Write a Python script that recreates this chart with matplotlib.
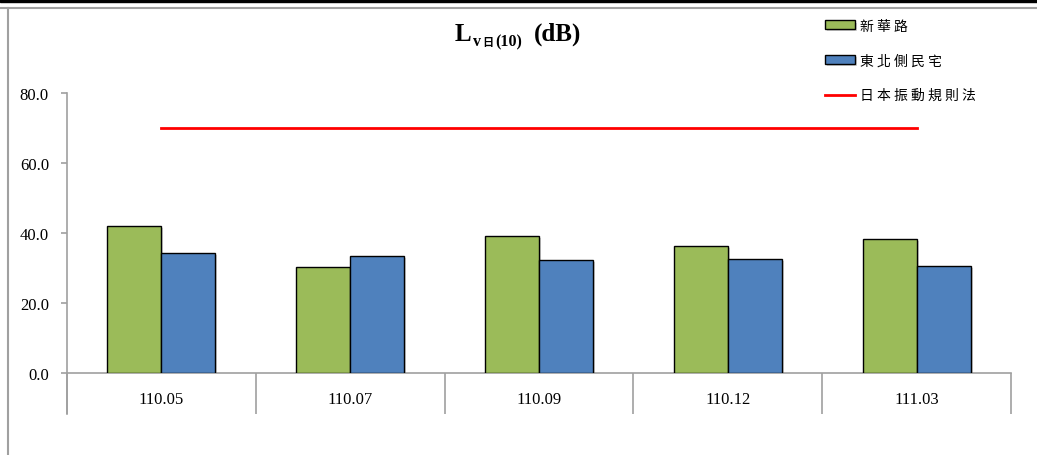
import numpy as np
import matplotlib
matplotlib.use("Agg")
import matplotlib.pyplot as plt
import matplotlib.patheffects as pe
from matplotlib.lines import Line2D
from matplotlib.patches import Rectangle

# 資料
periods = ["110.05", "110.07", "110.09", "110.12", "111.03"]
xinhua = [42.0, 30.3, 39.1, 36.3, 38.3]        # 新華路
east_north = [34.3, 33.4, 32.3, 32.6, 30.6]    # 東北側民宅
jp_limit = [70.0, 70.0, 70.0, 70.0, 70.0]      # 日本振動規則法
yticks = [0, 20, 40, 60, 80]

green = "#9BBB59"
blue = "#4F81BD"
axis_gray = "#A0A0A0"
serif = ["Liberation Serif", "DejaVu Serif"]
cjk = ["Noto Sans CJK TC", "DejaVu Sans"]

W, H = 1037, 456
fig = plt.figure(figsize=(W / 100, H / 100), dpi=100)
ax = fig.add_axes([67 / W, 82 / H, (1011 - 67) / W, 280 / H])

x = np.arange(len(periods))
bw = 0.286
shadow = [pe.SimplePatchShadow(offset=(1.5, -1.5), shadow_rgbFace="gray", alpha=0.35), pe.Normal()]
b1 = ax.bar(x - bw / 2, xinhua, bw, color=green, edgecolor="black", linewidth=1.0,
            label="新 華 路", zorder=3)
b2 = ax.bar(x + bw / 2, east_north, bw, color=blue, edgecolor="black", linewidth=1.0,
            label="東 北 側 民 宅", zorder=3)
for b in list(b1) + list(b2):
    b.set_path_effects(shadow)
ln, = ax.plot(x, jp_limit, color="#FF0000", linewidth=2, label="日 本 振 動 規 則 法", zorder=4)

ax.set_xlim(-0.5, len(periods) - 0.5)
ax.set_ylim(0, 80)
ax.set_yticks(yticks)
ax.set_yticklabels([f"{v:.1f}" for v in yticks], fontfamily=serif, fontsize=12)
ax.set_xticks(x)
ax.set_xticklabels(periods, fontfamily=serif, fontsize=12)
ax.set_xticks(np.arange(len(periods) + 1) - 0.5, minor=True)
ax.tick_params(axis="x", which="major", length=0, pad=13)
ax.tick_params(axis="x", which="minor", length=29.5, color=axis_gray, width=1.2, direction="out")
ax.tick_params(axis="y", length=4, color=axis_gray, width=1.2, pad=9)
for s in ["top", "right"]:
    ax.spines[s].set_visible(False)
for s in ["left", "bottom"]:
    ax.spines[s].set_color(axis_gray)
    ax.spines[s].set_linewidth(1.2)
# 左軸延伸到分類框底部
ax.spines["left"].set_bounds(0, 80)
ax.plot([-0.5, -0.5], [0, -41 / 3.5], color=axis_gray, linewidth=1.2, clip_on=False)

leg = ax.legend(handles=[b1, b2, ln], loc="upper left", bbox_to_anchor=(819 / W, 1 - 14 / H),
                bbox_transform=fig.transFigure, frameon=False, prop={"family": cjk, "size": 10},
                handlelength=2.2, handleheight=0.55, handletextpad=0.35, labelspacing=1.5,
                borderaxespad=0)

# 外框
fig.add_artist(Rectangle((0, 1 - 3 / H), 1, 3 / H, transform=fig.transFigure, color="black"))
fig.add_artist(Line2D([0, 1], [1 - 8.5 / H] * 2, transform=fig.transFigure, color=axis_gray, linewidth=1.5))
fig.add_artist(Line2D([7.5 / W] * 2, [0, 1 - 8.5 / H], transform=fig.transFigure, color=axis_gray, linewidth=1.5))

# 標題 L v日(10) (dB)
fig.canvas.draw()
r = fig.canvas.get_renderer()
base_y = 1 - 41 / H
t1 = fig.text(0, base_y, "L", fontfamily=serif, fontweight="bold", fontsize=18, va="baseline")
t2 = fig.text(0, base_y - 5 / H, "v", fontfamily=serif, fontweight="bold", fontsize=11.5, va="baseline")
t3 = fig.text(0, base_y - 5 / H, "日", fontfamily=cjk, fontweight="bold", fontsize=8, va="baseline")
t4 = fig.text(0, base_y - 5 / H, "(10)", fontfamily=serif, fontweight="bold", fontsize=11.5, va="baseline")
t5 = fig.text(0, base_y, "(dB)", fontfamily=serif, fontweight="bold", fontsize=18, va="baseline")
gaps = [0, 1, 2, 2, 11]
widths = [t.get_window_extent(r).width for t in (t1, t2, t3, t4, t5)]
total = sum(widths) + sum(gaps)
cur = 518 - total / 2
for t, w, g in zip((t1, t2, t3, t4, t5), widths, gaps):
    cur += g
    t.set_x(cur / W)
    cur += w

fig.savefig("out.png", dpi=100)
